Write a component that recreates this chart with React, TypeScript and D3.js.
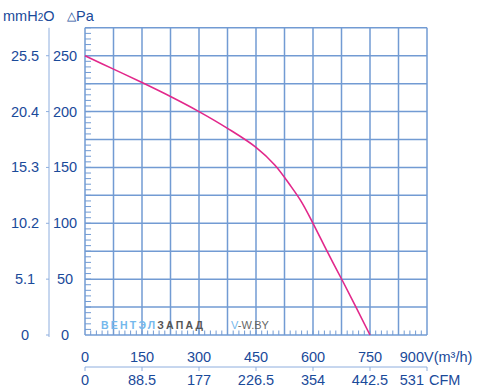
import React from 'react';
import * as d3 from 'd3';

// fan curve
const flow = [0, 75, 150, 225, 300, 375, 450, 500, 540, 570, 600, 640, 680, 750];
const pressure = [250, 238, 226, 213.5, 200, 185, 168, 152, 134, 119, 100, 73, 47, 0];

const flowTicks = [0, 150, 300, 450, 600, 750, 900];
const cfmLabels = ['0', '88.5', '177', '226.5', '354', '442.5', '531'];
const paTicks = [0, 50, 100, 150, 200, 250];
const mmLabels = ['0', '5.1', '10.2', '15.3', '20.4', '25.5'];

const W = 478;
const H = 389;
const textColor = '#1a4a9a';
const gridColor = '#729bd3';
const axisColor = '#8eaede';
const font = '"Liberation Sans", Arial, sans-serif';

export default function App() {
  const x = d3.scaleLinear().domain([0, 900]).range([85, 427]);
  const y = d3.scaleLinear().domain([0, 275]).range([335, 27.8]);

  const line = d3.line<number>()
    .x((d, i) => x(flow[i]))
    .y((d) => y(d))
    .curve(d3.curveCatmullRom.alpha(0.5));

  const vGrid = d3.range(75, 901, 75);
  const hGrid = d3.range(25, 276, 25);
  const paMinor = d3.range(5, 276, 5);
  const flowMinor = d3.range(15, 900, 15);

  return (
    <svg width={W} height={H} style={{ position: 'absolute', left: 0, top: 0 }} fontFamily={font}>
      <rect width={W} height={H} fill="#fff" />

      {/* header */}
      <text x={3} y={21} fontSize={14.5} fill={textColor}>
        mmH<tspan fontSize={10}>2</tspan>O
      </text>
      <text x={67} y={21} fontSize={14.5} fill={textColor}>
        <tspan fontSize={12} dy={-1}>△</tspan><tspan dy={1}>Pa</tspan>
      </text>

      {/* grid */}
      {vGrid.map((v) => (
        <line key={`v${v}`} x1={x(v)} x2={x(v)} y1={y(275)} y2={y(0)} stroke={gridColor} strokeWidth={1.5} />
      ))}
      {hGrid.map((p) => (
        <line key={`h${p}`} x1={x(0)} x2={x(900)} y1={y(p)} y2={y(p)} stroke={gridColor} strokeWidth={1.5} />
      ))}
      <line x1={x(0)} x2={x(0)} y1={y(275)} y2={y(0)} stroke={gridColor} strokeWidth={1.5} />
      <line x1={x(0)} x2={x(900)} y1={y(0)} y2={y(0)} stroke={gridColor} strokeWidth={1.5} />

      {/* minor ticks */}
      {paMinor.map((p) => (
        <line key={`pm${p}`} x1={x(0)} x2={x(0) + 6} y1={y(p)} y2={y(p)} stroke={gridColor} strokeWidth={1} />
      ))}
      {flowMinor.map((f) => (
        <line key={`fm${f}`} x1={x(f)} x2={x(f)} y1={y(0)} y2={y(0) - 4.5} stroke={gridColor} strokeWidth={1} />
      ))}

      {/* watermark */}
      <text x={101} y={329} fontSize={10.5} fontWeight="bold" letterSpacing={2.2}>
        <tspan fill="#74b8ec">ВЕНТЭЛ</tspan>
        <tspan fill="#555">ЗАПАД</tspan>
      </text>
      <text x={231} y={329} fontSize={11}>
        <tspan fill="#74b8ec">V</tspan>
        <tspan fill="#666">-W.BY</tspan>
      </text>

      {/* curve */}
      <path d={line(pressure) || ''} fill="none" stroke="#e2288b" strokeWidth={1.6} />

      {/* left axes */}
      <line x1={49} x2={49} y1={y(275)} y2={y(0) + 2} stroke={axisColor} strokeWidth={1} />
      {paTicks.map((p, i) => (
        <g key={`pa${p}`}>
          <line x1={46} x2={49} y1={y(p)} y2={y(p)} stroke={axisColor} strokeWidth={1} />
          <text x={65} y={y(p) + 5} fontSize={14.5} fill={textColor} textAnchor="middle">{p}</text>
          <text x={25} y={y(p) + 5} fontSize={14.5} fill={textColor} textAnchor="middle">{mmLabels[i]}</text>
        </g>
      ))}

      {/* bottom axes */}
      {flowTicks.map((f, i) => {
        const last = i === flowTicks.length - 1;
        return (
          <g key={`f${f}`}>
            <text x={last ? x(f) - 3 : x(f)} y={362} fontSize={14.5} fill={textColor} textAnchor={last ? 'end' : 'middle'}>{f}</text>
            <line x1={x(f)} x2={x(f)} y1={367} y2={371} stroke={axisColor} strokeWidth={1} />
            <text x={last ? x(f) - 3 : x(f)} y={385} fontSize={14.5} fill={textColor} textAnchor={last ? 'end' : 'middle'}>{cfmLabels[i]}</text>
          </g>
        );
      })}
      <line x1={x(0)} x2={x(900)} y1={367} y2={367} stroke={axisColor} strokeWidth={1} />
      <text x={424} y={362} fontSize={14.5} fill={textColor}>V(m³/h)</text>
      <text x={429} y={385} fontSize={14.5} fill={textColor}>CFM</text>
    </svg>
  );
}
